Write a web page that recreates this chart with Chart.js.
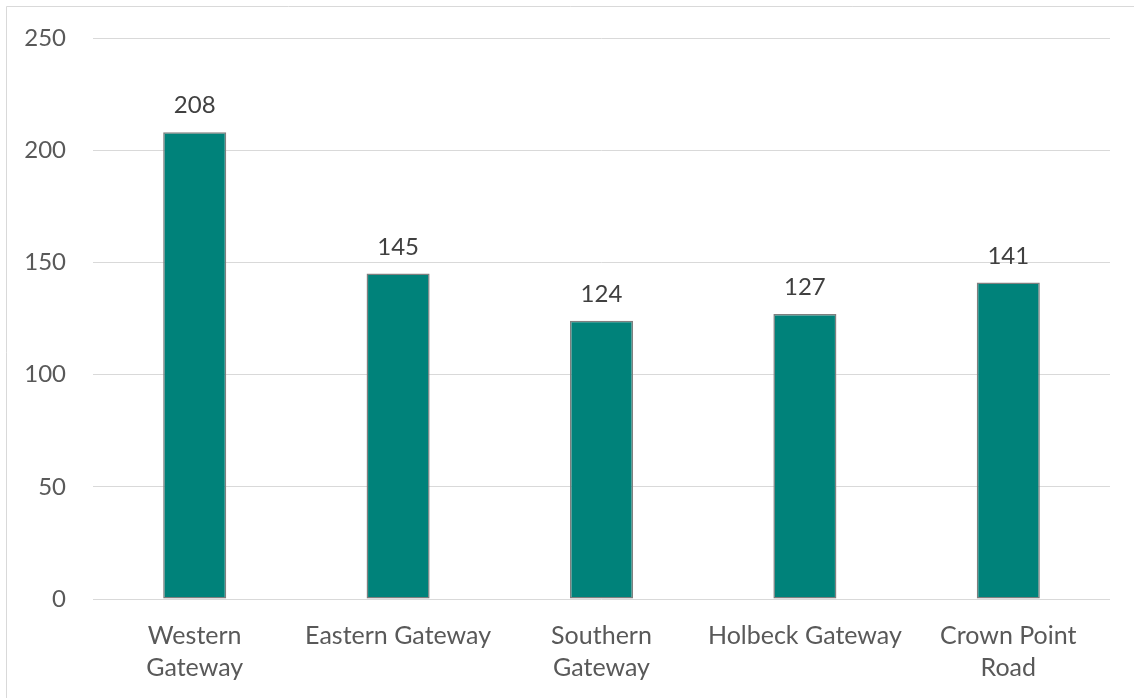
<!DOCTYPE html>
<html><head><meta charset="utf-8">
<script src="https://cdn.jsdelivr.net/npm/chart.js@4/dist/chart.umd.min.js"></script>
<style>html,body{margin:0;padding:0;background:#fff}#wrap{width:1134px;height:698px;position:relative}</style>
</head><body><div id="wrap"><canvas id="c" width="1134" height="698"></canvas></div>
<script>
const categories = [["Western","Gateway"],["Eastern Gateway"],["Southern","Gateway"],["Holbeck Gateway"],["Crown Point","Road"]];
const values = [208,145,124,127,141];
const yTicks = [0,50,100,150,200,250];
const FONT = "Lato, 'Liberation Sans', Arial, sans-serif";
const frame = {id:'frame',beforeDraw(ch){const c=ch.ctx;c.save();c.fillStyle='#fff';c.fillRect(0,0,ch.width,ch.height);c.strokeStyle='#d9d9d9';c.lineWidth=1;c.beginPath();c.moveTo(6.5,698);c.lineTo(6.5,6.5);c.lineTo(1134,6.5);c.stroke();c.restore();}};
const labels = {id:'labels',afterDatasetsDraw(ch){const c=ch.ctx;const meta=ch.getDatasetMeta(0);c.save();c.font='24px '+FONT;c.fillStyle='#404040';c.textAlign='center';c.textBaseline='alphabetic';meta.data.forEach((b,i)=>{c.fillText(String(values[i]),b.x,b.y-19);});c.restore();}};
new Chart(document.getElementById('c'),{
 type:'bar',
 data:{labels:categories,datasets:[{data:values,backgroundColor:'#00827A',borderColor:'#7f7f7f',borderWidth:1.5,borderSkipped:false,barPercentage:0.31,categoryPercentage:1}]},
 options:{responsive:false,animation:false,devicePixelRatio:1,
  layout:{padding:{top:38,right:24,left:0,bottom:0}},
  plugins:{legend:{display:false},tooltip:{enabled:false}},
  scales:{
   x:{grid:{display:false},border:{display:false},ticks:{color:'#595959',font:{size:25,family:FONT,lineHeight:1.28},padding:13,maxRotation:0,autoSkip:false},afterFit(s){s.height=99;}},
   y:{min:0,max:250,afterBuildTicks(s){s.ticks=yTicks.map(v=>({value:v}));},grid:{color:'#d9d9d9',drawTicks:false},border:{display:false},ticks:{color:'#595959',font:{size:24,family:FONT,lineHeight:0.8},padding:27},afterFit(s){s.width=93;}}
  }},
 plugins:[frame,labels]
});
</script></body></html>
